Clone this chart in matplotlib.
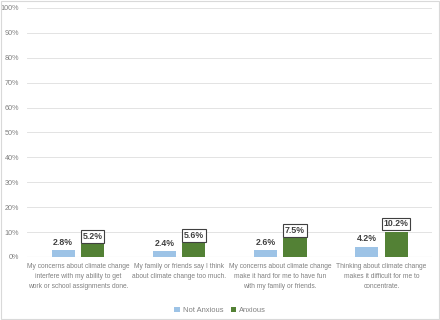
import numpy as np
import matplotlib.pyplot as plt
from matplotlib.patches import Rectangle

# data
categories = [
    "My concerns about climate change\ninterfere with my ability to get\nwork or school assignments done.",
    "My family or friends say I think\nabout climate change too much.",
    "My concerns about climate change\nmake it hard for me to have fun\nwith my family or friends.",
    "Thinking about climate change\nmakes it difficult for me to\nconcentrate.",
]
not_anxious = [2.8, 2.4, 2.6, 4.2]
anxious = [5.2, 5.6, 7.5, 10.2]

blue = "#9DC3E6"
green = "#538135"
grey = "#808080"

plt.rcParams['font.family'] = ['Liberation Sans', 'DejaVu Sans']

fig = plt.figure(figsize=(4.4, 3.2), dpi=100)
fig.patches.append(Rectangle((0.002, 0.003), 0.995, 0.994, transform=fig.transFigure,
                             fill=False, edgecolor="#d9d9d9", lw=0.8))
ax = fig.add_axes([0.062, 0.197, 0.92, 0.778])

x = np.arange(len(categories))
w = 0.23
gap = 0.06
b1 = ax.bar(x - (w + gap) / 2, not_anxious, w, color=blue, label="Not Anxious", zorder=3)
b2 = ax.bar(x + (w + gap) / 2, anxious, w, color=green, label="Anxious", zorder=3)

for r, v in zip(b1, not_anxious):
    ax.text(r.get_x() + r.get_width() / 2, v + 1.3, f"{v:.1f}%", ha="center", va="bottom",
            fontsize=6.3, color="#404040", fontweight="bold")
for r, v in zip(b2, anxious):
    ax.text(r.get_x() + r.get_width() / 2, v + 1.3, f"{v:.1f}%", ha="center", va="bottom",
            fontsize=6.3, color="#404040", fontweight="bold",
            bbox=dict(boxstyle="square,pad=0.2", fc="white", ec="#404040", lw=0.8))

ax.set_ylim(0, 100)
ax.set_xlim(-0.5, len(categories) - 0.5)
ax.set_yticks(np.arange(0, 101, 10))
ax.set_yticklabels([f"{t}%" for t in range(0, 101, 10)])
ax.set_xticks(x)
ax.set_xticklabels(categories, fontsize=4.8, color=grey, linespacing=1.65)
ax.tick_params(axis="y", labelsize=5.2, labelcolor=grey, length=0, pad=6)
ax.tick_params(axis="x", length=0, pad=4)
ax.grid(axis="y", color="#e3e3e3", lw=0.7, zorder=0)
for s in ax.spines.values():
    s.set_visible(False)
ax.axhline(0, color="#d9d9d9", lw=0.8, zorder=2)

fig.legend(loc="lower center", bbox_to_anchor=(0.5, -0.002), ncol=2, frameon=False,
           fontsize=5.4, labelcolor=grey, handlelength=0.7, handleheight=0.7,
           columnspacing=1.0, handletextpad=0.4)

fig.savefig("out.png", dpi=100)
